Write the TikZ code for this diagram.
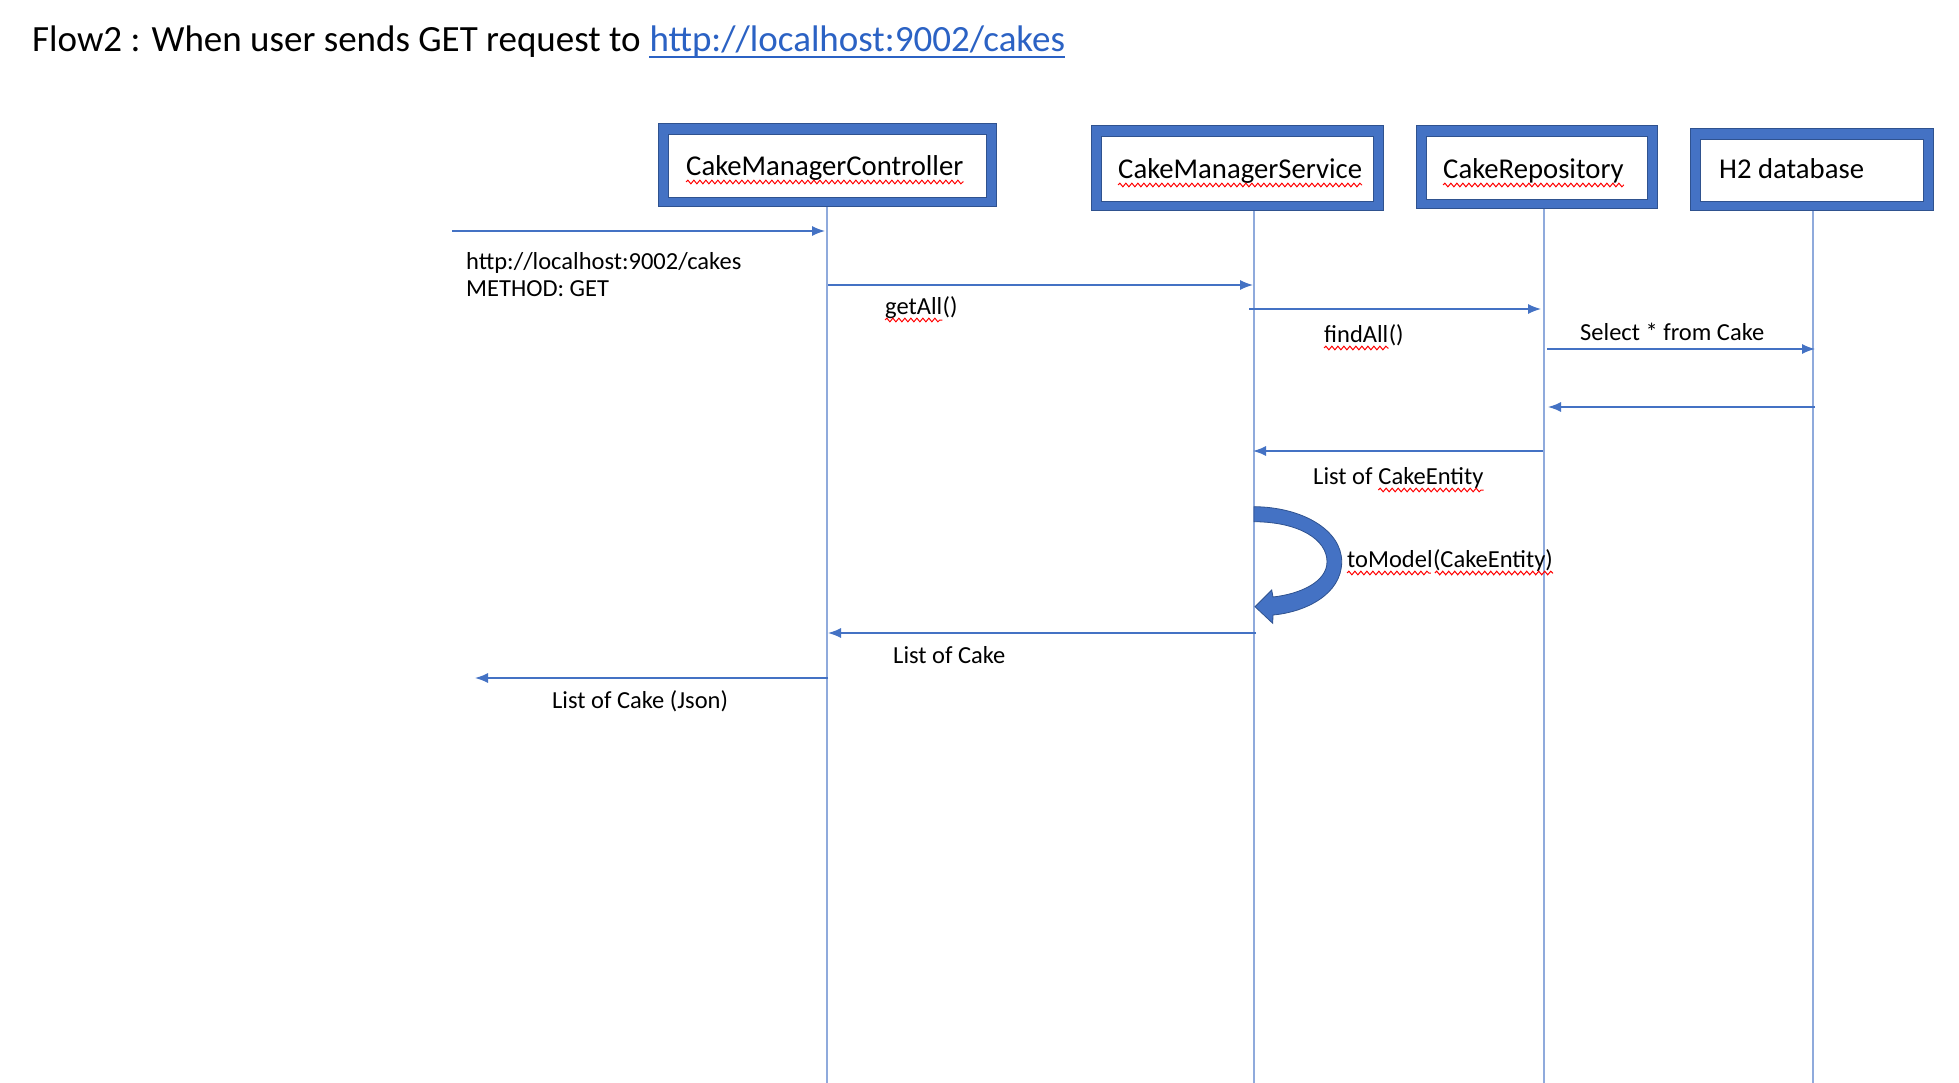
\documentclass[tikz,border=0pt]{standalone}
\usepackage{fontspec}
\setmainfont{Carlito}
\usetikzlibrary{arrows.meta,decorations.pathmorphing}
\definecolor{obl}{HTML}{4472C4}
\definecolor{odk}{HTML}{2F528F}
\definecolor{olt}{HTML}{8FAADC}
\definecolor{lnk}{HTML}{2B62C4}
\begin{document}
\begin{tikzpicture}[x=1pt,y=-1pt,
  fout/.style={draw=odk,line width=1pt,fill=obl,inner sep=0pt},
  fin/.style={draw=odk,line width=0.8pt,fill=white,inner sep=0pt},
  btext/.style={anchor=base west,inner sep=0pt,font=\fontsize{28.7}{34}\selectfont},
  lbl/.style={anchor=base west,inner sep=0pt,font=\fontsize{24.5}{29}\selectfont},
  life/.style={draw=olt,line width=1.2pt},
  msg/.style={draw=obl,line width=1.4pt,-{Latex[length=13pt,width=10pt]}},
  wavy/.style={draw=red,line width=1pt,decorate,decoration={snake,amplitude=1.8pt,segment length=6pt}}]
\useasboundingbox[fill=white] (0,0) rectangle (1959,1083);
% title
\node[anchor=base west,inner sep=0pt,font=\fontsize{37}{44}\selectfont] (title) at (32,52) {Flow2 : When user sends GET request to};
\node[anchor=base west,inner sep=0pt,font=\fontsize{37}{44}\selectfont,text=lnk] (lk) at ([xshift=8.4pt]title.base east) {http://localhost:9002/cakes};
\draw[lnk,line width=2.4pt] ([yshift=-5pt]lk.base west) -- ([yshift=-5pt]lk.base east);
% boxes
\node[fout,minimum width=338pt,minimum height=83pt] (b1o) at (827,165.5) {};
\node[fin,minimum width=318pt,minimum height=63pt] (b1) at (b1o.center) {};
\node[btext] (t1) at (686,176) {CakeManagerController};
\node[fout,minimum width=292pt,minimum height=85pt] (b2o) at (1237,168.5) {};
\node[fin,minimum width=272pt,minimum height=65pt] (b2) at (b2o.center) {};
\node[btext] (t2) at (1118,179) {CakeManagerService};
\node[fout,minimum width=241pt,minimum height=83pt] (b3o) at (1536.5,167.5) {};
\node[fin,minimum width=221pt,minimum height=63pt] (b3) at (b3o.center) {};
\node[btext] (t3) at (1443,179) {CakeRepository};
\node[fout,minimum width=243pt,minimum height=82pt] (b4o) at (1811.5,170) {};
\node[fin,minimum width=223pt,minimum height=62pt] (b4) at (b4o.center) {};
\node[btext] (t4) at (1719,179) {H2 database};
\draw[wavy] ([yshift=-6pt]t1.base west) -- ([yshift=-6pt]t1.base east);
\draw[wavy] ([yshift=-6pt]t2.base west) -- ([yshift=-6pt]t2.base east);
\draw[wavy] ([yshift=-6pt]t3.base west) -- ([yshift=-6pt]t3.base east);
% lifelines
\coordinate (Lc) at (827,207);
\coordinate (Ls) at (1254,211);
\coordinate (Lr) at (1544,209);
\coordinate (Lh) at (1813,211);
\coordinate (bot) at (0,1083);
\draw[life] (Lc) -- (Lc |- bot);
\draw[life] (Ls) -- (Ls |- bot);
\draw[life] (Lr) -- (Lr |- bot);
\draw[life] (Lh) -- (Lh |- bot);
% rows
\coordinate (r1) at (452,231);
\coordinate (r2) at (0,285);
\coordinate (r3) at (1249,309);
\coordinate (r4) at (1547,349);
\coordinate (r5) at (1815,407);
\coordinate (r6) at (0,451);
\coordinate (r8) at (1256,633);
\coordinate (r9) at (475,678);
\draw[msg] (r1) -- ([xshift=-2pt]Lc |- r1);
\draw[msg] ([xshift=1pt]Lc |- r2) -- ([xshift=-1pt]Ls |- r2);
\draw[msg] (r3) -- ([xshift=-3pt]Lr |- r3);
\draw[msg] (r4) -- ([xshift=2pt]Lh |- r4);
\draw[msg] (r5) -- ([xshift=4pt]Lr |- r5);
\draw[msg] ([xshift=-1pt]Lr |- r6) -- ([xshift=-1pt]Ls |- r6);
\draw[msg] (r8) -- ([xshift=1pt]Lc |- r8);
\draw[msg] ([xshift=1pt]Lc |- r9) -- (r9);
% self call arrow
\fill[obl,draw=odk,line width=0.8pt] (1254,506.7) .. controls (1302,507) and (1341.7,530) .. (1341.7,561.7)
  .. controls (1341.7,594) and (1306,612) .. (1273,615)
  -- (1272.7,623.3) -- (1255,606.7) -- (1271.7,590) -- (1273,597)
  .. controls (1300,594) and (1327,582) .. (1327,561.7)
  .. controls (1327,540) and (1300,522) .. (1254,521.7) -- cycle;
% labels
\node[lbl] (l1a) at (466,270) {http://localhost:9002/cakes};
\node[lbl] (l1b) at (466,297) {METHOD: GET};
\node[lbl] (l2a) at (885,314) {getAll};
\node[lbl] (l2b) at (l2a.base east) {()};
\node[lbl] (l3a) at (1324,342) {findAll};
\node[lbl] (l3b) at (l3a.base east) {()};
\node[lbl] (l4) at (1580,340) {Select * from Cake};
\node[lbl] (l6a) at (1313,484) {List of};
\node[lbl] (l6b) at ([xshift=5.5pt]l6a.base east) {CakeEntity};
\node[lbl] (l7a) at (1347,567) {toModel};
\node[lbl] (l7b) at (l7a.base east) {(CakeEntity)};
\node[lbl] (l8) at (893,663) {List of Cake};
\node[lbl] (l9) at (552,708) {List of Cake (Json)};
\draw[wavy] ([yshift=-6pt]l2a.base west) -- ([yshift=-6pt]l2a.base east);
\draw[wavy] ([yshift=-6pt]l3a.base west) -- ([yshift=-6pt]l3a.base east);
\draw[wavy] ([yshift=-6pt]l6b.base west) -- ([yshift=-6pt]l6b.base east);
\draw[wavy] ([yshift=-6pt]l7a.base west) -- ([yshift=-6pt,xshift=-2pt]l7a.base east);
\draw[wavy] ([yshift=-6pt,xshift=2pt]l7b.base west) -- ([yshift=-6pt]l7b.base east);
\end{tikzpicture}
\end{document}
